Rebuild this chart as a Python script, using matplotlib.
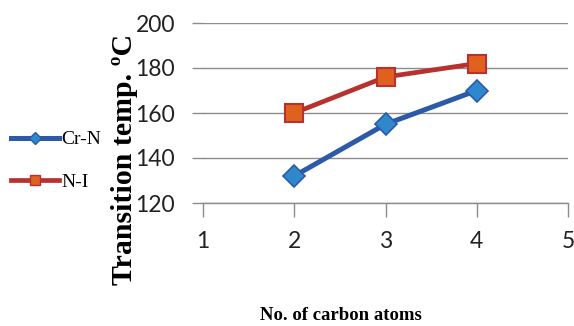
import matplotlib
matplotlib.use("Agg")
import matplotlib.pyplot as plt
from matplotlib.lines import Line2D

carbon_atoms = [2, 3, 4]
cr_n = [132, 155, 170]
n_i = [160, 176, 182]
x_ticks = [1, 2, 3, 4, 5]
y_ticks = [120, 140, 160, 180, 200]

W, H = 574, 326
fig = plt.figure(figsize=(W / 100, H / 100), dpi=100)
ax = fig.add_axes([203 / W, 1 - 203 / H, (568 - 203) / W, (203 - 23) / H])

blue_line, blue_fill = "#2C5AA8", "#2F87CC"
red_line, red_fill = "#B8312F", "#E0601F"

ax.plot(carbon_atoms, cr_n, color=blue_line, lw=3.6, marker="D", ms=11,
        mfc=blue_fill, mec=blue_line, mew=1.2, solid_capstyle="round", zorder=3)
ax.plot(carbon_atoms, n_i, color=red_line, lw=3.4, marker="s", ms=13,
        mfc=red_fill, mec=red_line, mew=1.5, solid_capstyle="round", zorder=3)

ax.set_xlim(1, 5)
ax.set_ylim(120, 200)
ax.set_xticks(x_ticks)
ax.set_yticks(y_ticks)
ax.grid(axis="y", color="#8c8c8c", lw=1.0)
ax.set_axisbelow(True)
for s in ("top", "right", "left"):
    ax.spines[s].set_visible(False)
ax.spines["bottom"].set_color("#8c8c8c")
ax.spines["bottom"].set_linewidth(1.0)
ax.tick_params(axis="y", length=8, width=1.0, color="#8c8c8c", pad=12)
ax.tick_params(axis="x", length=10, width=1.0, color="#8c8c8c", pad=10)
for lab in ax.get_xticklabels() + ax.get_yticklabels():
    lab.set_fontfamily("Lato")
    lab.set_fontsize(16.5)
    lab.set_color("#222222")

fig.text(125 / W, 1 - 159 / H, "Transition temp. ºC", rotation=90,
         ha="center", va="center", fontfamily="Liberation Serif",
         fontweight="bold", fontsize=21.5)
fig.text(341 / W, 1 - 316 / H, "No. of carbon atoms", ha="center", va="center",
         fontfamily="Liberation Serif", fontweight="bold", fontsize=13.5)

# legend on the left side of the figure
handles = [
    Line2D([], [], color=blue_line, lw=3.6, marker="D", ms=6,
           mfc=blue_fill, mec=blue_line),
    Line2D([], [], color=red_line, lw=3.4, marker="s", ms=7,
           mfc=red_fill, mec=red_line),
]
fig.legend(handles, ["Cr-N", "N-I"], loc="center left",
           bbox_to_anchor=(-0.012, 1 - 161 / H), frameon=False,
           prop={"family": "Liberation Serif", "size": 14},
           handlelength=2.5, handletextpad=0.1, labelspacing=1.3)

fig.savefig("out.png", dpi=100)
